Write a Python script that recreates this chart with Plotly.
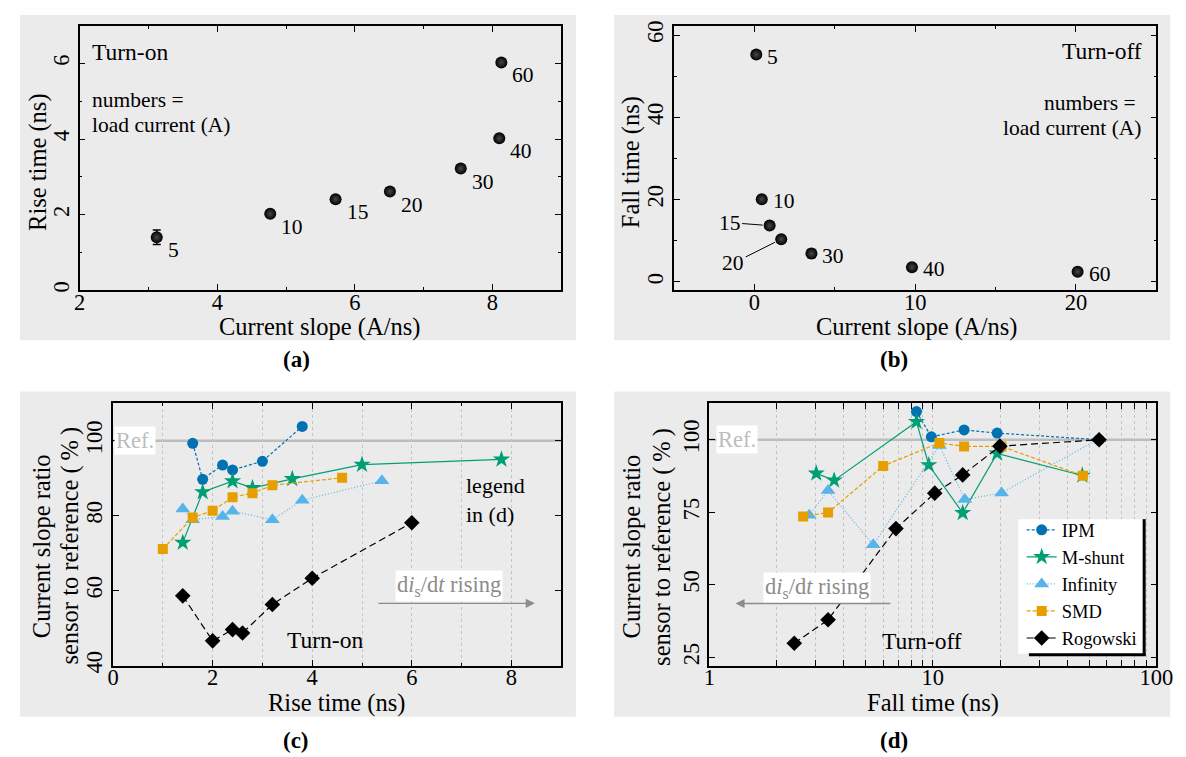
import numpy as np
import plotly.graph_objects as go

F = "Liberation Serif"
W, H = 1186, 757

# ---------------- data ----------------
load_labels = ["5", "10", "15", "20", "30", "40", "60"]
# (a) turn-on
a_slope = [3.12, 4.77, 5.72, 6.51, 7.54, 8.10, 8.13]
a_rise = [1.40, 2.02, 2.41, 2.61, 3.22, 4.02, 6.03]
a_err = [0.19, 0.06, 0.08, 0.06, 0.08, 0.08, 0.06]
# (b) turn-off
b_slope = [0.12, 0.46, 0.95, 1.67, 3.55, 9.8, 20.1]
b_fall = [55.3, 20.1, 13.7, 10.4, 6.9, 3.6, 2.5]
b_err = [0.6, 0.5, 0.6, 0.6, 1.0, 0.5, 0.5]

sensors = ["IPM", "M-shunt", "Infinity", "SMD", "Rogowski"]
# (c) turn-on ratio vs rise time
c_x = {
    "IPM": [1.6, 1.8, 2.2, 2.4, 3.0, 3.8],
    "M-shunt": [1.4, 1.8, 2.4, 2.8, 3.6, 5.0, 7.8],
    "Infinity": [1.4, 1.6, 2.2, 2.4, 3.2, 3.8, 5.4],
    "SMD": [1.0, 1.6, 2.0, 2.4, 2.8, 3.2, 4.6],
    "Rogowski": [1.4, 2.0, 2.4, 2.6, 3.2, 4.0, 6.0],
}
c_y = {
    "IPM": [99.3, 89.7, 93.5, 92.2, 94.5, 103.8],
    "M-shunt": [72.8, 86.3, 89.2, 87.4, 89.8, 93.6, 95.0],
    "Infinity": [81.8, 78.9, 79.8, 81.2, 78.9, 84.1, 89.3],
    "SMD": [71.1, 79.5, 81.3, 84.9, 86.0, 88.1, 90.1],
    "Rogowski": [58.6, 46.6, 49.6, 48.7, 56.3, 63.3, 78.1],
}
# (d) turn-off ratio vs fall time
d_x = {
    "IPM": [8.45, 9.85, 13.8, 19.4, 55.4],
    "M-shunt": [3.01, 3.62, 8.45, 9.59, 13.6, 19.4, 46.6],
    "Infinity": [2.80, 3.40, 5.41, 10.7, 13.9, 20.3, 55.4],
    "SMD": [2.63, 3.40, 6.0, 10.7, 13.8, 20.3, 46.9],
    "Rogowski": [2.40, 3.40, 6.84, 10.2, 13.6, 19.95, 55.4],
}
d_y = {
    "IPM": [109.7, 101.0, 103.4, 102.3, 100.0],
    "M-shunt": [88.4, 86.0, 106.2, 91.3, 74.8, 95.3, 87.7],
    "Infinity": [74.0, 82.5, 63.8, 98.0, 79.4, 81.7, 100.4],
    "SMD": [73.6, 74.9, 91.0, 98.9, 97.7, 97.7, 87.6],
    "Rogowski": [29.9, 38.0, 69.4, 81.6, 87.9, 97.8, 100.0],
}
ref_value = 100

style = {
    "IPM": dict(color="#0072B2", symbol="circle", size=11, dash="3px,2px"),
    "M-shunt": dict(color="#009E73", symbol="star", size=13, dash="solid"),
    "Infinity": dict(color="#56B4E9", symbol="triangle-up", size=13, dash="1px,2px"),
    "SMD": dict(color="#E69F00", symbol="square", size=10, dash="4px,2px"),
    "Rogowski": dict(color="#000000", symbol="diamond", size=12, dash="7px,4px"),
}

fig = go.Figure()

sphere = dict(color="black", size=12, symbol="circle",
              gradient=dict(type="radial", color="#484848"))

fig.add_trace(go.Scatter(x=a_slope, y=a_rise, mode="markers", marker=sphere,
                         error_y=dict(type="data", array=a_err, color="black", thickness=1.5, width=4),
                         xaxis="x", yaxis="y", showlegend=False))
fig.add_trace(go.Scatter(x=b_slope, y=b_fall, mode="markers", marker=sphere,
                         error_y=dict(type="data", array=b_err, color="black", thickness=1.5, width=4),
                         xaxis="x2", yaxis="y2", showlegend=False))

for s in sensors:
    st = style[s]
    fig.add_trace(go.Scatter(x=c_x[s], y=c_y[s], mode="lines+markers", name=s,
                             line=dict(color=st["color"], width=1.2, dash=st["dash"]),
                             marker=dict(color=st["color"], symbol=st["symbol"], size=st["size"]),
                             xaxis="x3", yaxis="y3", showlegend=False, legendgroup=s))
for s in sensors:
    st = style[s]
    fig.add_trace(go.Scatter(x=d_x[s], y=d_y[s], mode="lines+markers", name=s,
                             line=dict(color=st["color"], width=1.2, dash=st["dash"]),
                             marker=dict(color=st["color"], symbol=st["symbol"], size=st["size"]),
                             xaxis="x4", yaxis="y4", showlegend=True, legendgroup=s))


def px_x(p):
    return p / W


def px_y(p):
    return 1 - p / H


tickfont = dict(family=F, size=22.5, color="black")


def ax(**kw):
    d = dict(showline=True, linecolor="black", linewidth=1.5, mirror="ticks",
             ticks="inside", ticklen=6, tickwidth=1, tickcolor="black",
             tickfont=tickfont, showgrid=False, zeroline=False, fixedrange=True)
    d.update(kw)
    return d


def xax(**kw):
    return ax(ticklabelstandoff=-9, **kw)


def yax(**kw):
    return ax(tickangle=-90, **kw)


minor_lin = lambda dt: dict(ticks="inside", ticklen=3, dtick=dt, tickcolor="black")

log_vals = [1, 2, 3, 4, 5, 6, 7, 8, 9, 10, 20, 30, 40, 50, 60, 70, 80, 90, 100]
log_text = [str(v) if v in (1, 10, 100) else "" for v in log_vals]
grid = dict(showgrid=True, gridcolor="#c4c4c4", griddash="dot", gridwidth=1)

fig.update_layout(
    width=W, height=H, autosize=False,
    margin=dict(l=0, r=0, t=0, b=0),
    paper_bgcolor="white", plot_bgcolor="white",
    font=dict(family=F, size=21, color="black"),
    xaxis=xax(domain=[px_x(67), px_x(558)], range=[2, 9], dtick=2, anchor="y", minor=minor_lin(1)),
    yaxis=yax(domain=[px_y(282), px_y(13)], range=[0, 7], dtick=2, anchor="x", minor=minor_lin(1)),
    xaxis2=xax(domain=[px_x(673), px_x(1165)], range=[-5, 25], dtick=10, anchor="y2", minor=minor_lin(5)),
    yaxis2=yax(domain=[px_y(282), px_y(13)], range=[-2, 62.3], dtick=20, anchor="x2", minor=minor_lin(10)),
    xaxis3=xax(domain=[px_x(101), px_x(558)], range=[0, 9], dtick=2, anchor="y3",
               minor=dict(ticks="inside", ticklen=3, dtick=1, tickcolor="black", **grid), **grid),
    yaxis3=yax(domain=[px_y(664), px_y(397)], range=[40, 110], tickvals=[40, 60, 80, 100], anchor="x3"),
    xaxis4=xax(domain=[px_x(709), px_x(1165)], type="log", range=[0, 2], tickvals=log_vals, ticktext=log_text,
               anchor="y4", **grid),
    yaxis4=yax(domain=[px_y(664), px_y(397)], range=[22.2, 112.6], tickvals=[25, 50, 75, 100], anchor="x4"),
    legend=dict(x=px_x(1151), xanchor="right", y=px_y(507), yanchor="top",
                bgcolor="rgba(0,0,0,0)", borderwidth=0, font=dict(family=F, size=18.5, color="black"),
                itemwidth=30, tracegroupgap=0),
)

gray = "#ebebeb"
shapes = []
for (x0, x1, y0, y1) in [(6, 573, 2, 333), (612, 1179, 2, 333), (6, 573, 385, 716), (612, 1179, 385, 716)]:
    shapes.append(dict(type="rect", xref="paper", yref="paper", x0=px_x(x0), x1=px_x(x1),
                       y0=px_y(y1), y1=px_y(y0), fillcolor=gray, line=dict(width=0), layer="below"))
# reference lines
for xr, yr in [("x3 domain", "y3"), ("x4 domain", "y4")]:
    shapes.append(dict(type="line", xref=xr, yref=yr, x0=0, x1=1, y0=ref_value, y1=ref_value,
                       line=dict(color="#bdbdbd", width=2.5), layer="below"))
# legend box: white background with thick right/bottom frame
shapes.append(dict(type="rect", xref="paper", yref="paper", x0=px_x(1024), x1=px_x(1152),
                   y0=px_y(652), y1=px_y(515), fillcolor="white", line=dict(width=0), layer="above"))
shapes.append(dict(type="line", xref="paper", yref="paper", x0=px_x(1152.5), x1=px_x(1152.5),
                   y0=px_y(654), y1=px_y(515), line=dict(color="black", width=3), layer="above"))
shapes.append(dict(type="line", xref="paper", yref="paper", x0=px_x(1035), x1=px_x(1154),
                   y0=px_y(653), y1=px_y(653), line=dict(color="black", width=3), layer="above"))
fig.update_layout(shapes=shapes)

ann = []


def ptxt(text, x, y, size=21, xa="center", ya="middle", color="black", angle=0, **kw):
    d = dict(text=text, x=px_x(x), y=px_y(y), xref="paper", yref="paper", showarrow=False,
             xanchor=xa, yanchor=ya, textangle=angle, font=dict(family=F, size=size, color=color))
    d.update(kw)
    ann.append(d)


# axis titles
ptxt("Current slope (A/ns)", 312, 319, size=24.5)
ptxt("Rise time (ns)", 25, 152, size=24.5, angle=-90)
ptxt("Current slope (A/ns)", 920, 319, size=24.5)
ptxt("Fall time (ns)", 630, 152, size=24.5, angle=-90)
ptxt("Rise time (ns)", 329, 702, size=24.5)
ptxt("Current slope ratio", 28, 542, size=24.5, angle=-90)
ptxt("sensor to reference (\u2009%\u2009)", 57, 542, size=24.5, angle=-90)
ptxt("Fall time (ns)", 937, 702, size=24.5)
ptxt("Current slope ratio", 630, 543, size=24.5, angle=-90)
ptxt("sensor to reference (\u2009%\u2009)", 660, 543, size=24.5, angle=-90)
# panel labels
ptxt("<b>(a)</b>", 288, 353, size=23)
ptxt("<b>(b)</b>", 897, 353, size=23)
ptxt("<b>(c)</b>", 288, 740, size=23)
ptxt("<b>(d)</b>", 897, 740, size=23)
# panel texts
ptxt("Turn-on", 78, 40, size=23.5, xa="left")
ptxt("numbers =", 78, 89, size=21.5, xa="left")
ptxt("load current (A)", 78, 114, size=21.5, xa="left")
ptxt("Turn-off", 1152, 39, size=23.5, xa="right")
ptxt("numbers =", 1146, 92, size=21.5, xa="right")
ptxt("load current (A)", 1152, 117, size=21.5, xa="right")

# point labels (a)
for x, y, t in zip(a_slope, a_rise, load_labels):
    ann.append(dict(text=t, x=x, y=y, xref="x", yref="y", showarrow=False, xanchor="left",
                    yanchor="middle", xshift=9, yshift=-13, font=dict(family=F, size=21.5, color="black")))
# point labels (b)
for x, y, t in zip(b_slope, b_fall, load_labels):
    if t == "15":
        ann.append(dict(text=t, x=x, y=y, xref="x2", yref="y2", showarrow=True, arrowhead=0,
                        arrowwidth=1, arrowcolor="black", ax=-40, ay=-3, standoff=7,
                        font=dict(family=F, size=21.5, color="black")))
    elif t == "20":
        ann.append(dict(text=t, x=x, y=y, xref="x2", yref="y2", showarrow=True, arrowhead=0,
                        arrowwidth=1, arrowcolor="black", ax=-48, ay=24, standoff=7,
                        font=dict(family=F, size=21.5, color="black")))
    else:
        ann.append(dict(text=t, x=x, y=y, xref="x2", yref="y2", showarrow=False, xanchor="left",
                        yanchor="middle", xshift=9, yshift=-2, font=dict(family=F, size=21.5, color="black")))

# (c) texts
c_ref_x = 0.45
c_legnote_x, c_legnote_y = 7.04, 84.3
c_turn_x, c_turn_y = 4.25, 46.8
c_rise_x, c_rise_y = 6.75, 61.2
c_arrow = (5.3, 8.47, 56.6)
ann.append(dict(text="Ref.", x=c_ref_x, y=ref_value, xref="x3", yref="y3", showarrow=False,
                bgcolor="white", borderpad=1, font=dict(family=F, size=22.5, color="#bdbdbd")))
ann.append(dict(text="legend<br>in (d)", x=c_legnote_x, y=c_legnote_y, xref="x3", yref="y3", showarrow=False,
                xanchor="left", align="left", font=dict(family=F, size=22, color="black")))
ann.append(dict(text="Turn-on", x=c_turn_x, y=c_turn_y, xref="x3", yref="y3", showarrow=False,
                font=dict(family=F, size=23.5, color="black")))
ann.append(dict(text="d<i>i</i><sub>s</sub>/d<i>t</i> rising", x=c_rise_x, y=c_rise_y, xref="x3", yref="y3",
                showarrow=False, bgcolor="white", font=dict(family=F, size=22.5, color="#8c8c8c")))
ann.append(dict(text="", x=c_arrow[1], y=c_arrow[2], ax=c_arrow[0], ay=c_arrow[2], xref="x3", yref="y3",
                axref="x3", ayref="y3", showarrow=True, arrowhead=2, arrowsize=1.3, arrowwidth=1.4,
                arrowcolor="#8c8c8c"))

# (d) texts (log axis -> annotation positions in log10)
d_ref_x = 1.33
d_turn_x, d_turn_y = 8.9, 30.7
d_rise_x, d_rise_y = 3.04, 49.1
d_arrow = (6.56, 1.31, 43.6)
ann.append(dict(text="Ref.", x=np.log10(d_ref_x), y=ref_value, xref="x4", yref="y4", showarrow=False,
                bgcolor="white", borderpad=1, font=dict(family=F, size=22.5, color="#bdbdbd")))
ann.append(dict(text="Turn-off", x=np.log10(d_turn_x), y=d_turn_y, xref="x4", yref="y4", showarrow=False,
                font=dict(family=F, size=23.5, color="black")))
ann.append(dict(text="d<i>i</i><sub>s</sub>/d<i>t</i> rising", x=np.log10(d_rise_x), y=d_rise_y,
                xref="x4", yref="y4", showarrow=False, bgcolor="white",
                font=dict(family=F, size=22.5, color="#8c8c8c")))
ann.append(dict(text="", x=np.log10(d_arrow[1]), y=d_arrow[2], ax=np.log10(d_arrow[0]), ay=d_arrow[2],
                xref="x4", yref="y4", axref="x4", ayref="y4", showarrow=True, arrowhead=2, arrowsize=1.3,
                arrowwidth=1.4, arrowcolor="#8c8c8c"))

fig.update_layout(annotations=ann)
fig.write_html("out.html")
